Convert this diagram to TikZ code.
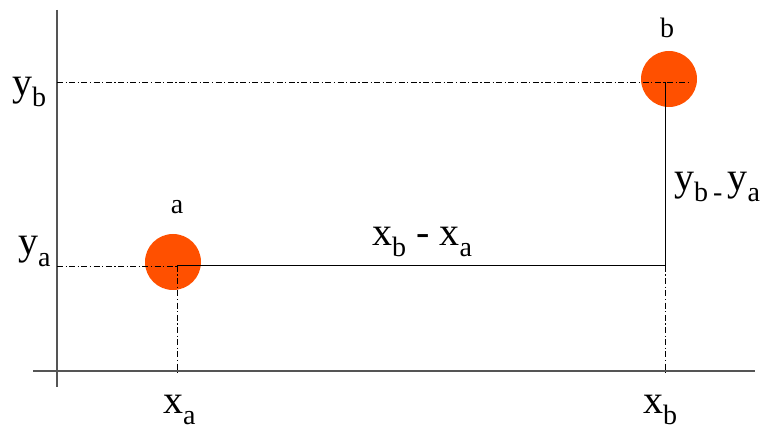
\documentclass[tikz,border=0pt]{standalone}
\usepackage{fontspec}
\setmainfont{Liberation Serif}
\definecolor{dotorange}{HTML}{FF5000}
\definecolor{axisgray}{HTML}{555555}
\newcommand{\bigtxt}{\rmfamily\fontsize{40}{46}\selectfont}
\newcommand{\smalltxt}{\rmfamily\fontsize{28}{32}\selectfont}
\newcommand{\lowsub}[1]{\raisebox{-11pt}{\smalltxt #1}}
\begin{document}
\begin{tikzpicture}[x=1pt,y=-1pt,
  axis/.style={draw=axisgray,line width=1.6pt},
  dashdot/.style={draw=black,line width=0.9pt,dash pattern=on 6pt off 2.5pt on 1.2pt off 2.5pt},
  solidline/.style={draw=black,line width=1pt},
  dot/.style={circle,fill=dotorange,minimum size=56pt,inner sep=0pt},
  lbl/.style={inner sep=0pt,anchor=base west,font=\bigtxt},
  ptlbl/.style={inner sep=0pt,anchor=base,font=\smalltxt}]
\useasboundingbox (0,0) rectangle (768,430);
% points
\node[dot] (a) at (173,262) {};
\node[dot] (b) at (669,79) {};
\coordinate (pa) at (177,266);
\coordinate (pb) at (665,82);
\coordinate (corner) at (665,266);
\coordinate (yaaxis) at (57,266);
\coordinate (ybaxis) at (57,82);
\coordinate (ybend) at (690,82);
\coordinate (xaaxis) at (177,375);
\coordinate (xbaxis) at (665,373);
% axes
\coordinate (xl) at (33,371);
\coordinate (xr) at (755,371);
\coordinate (yt) at (57,10);
\coordinate (yb) at (57,387);
\draw[axis] (xl) -- (xr);
\draw[axis] (yt) -- (yb);
% guide lines
\draw[dashdot] (ybaxis) -- (ybend);
\draw[dashdot] (yaaxis) -- (pa);
\draw[dashdot] (pa) -- (xaaxis);
\draw[dashdot] (corner) -- (xbaxis);
\draw[solidline] (pa) -- (corner);
\draw[solidline] (pb) -- (corner);
% labels
\node[ptlbl] (la) at (177,214) {a};
\node[ptlbl] (lb) at (667,38) {b};
\node[lbl] (ly1) at (12,96) {y\lowsub{b}};
\node[lbl] (ly2) at (18,255) {y\lowsub{a}};
\node[lbl] (lx1) at (163,413) {x\lowsub{a}};
\node[lbl] (lx2) at (643,413) {x\lowsub{b}};
\node[lbl] (dx) at (372,246) {x\lowsub{b} - x\lowsub{a}};
\node[lbl] (dy) at (674,191) {y\lowsub{b}\kern5pt\lowsub{-}\kern5pt y\lowsub{a}};
\end{tikzpicture}
\end{document}
